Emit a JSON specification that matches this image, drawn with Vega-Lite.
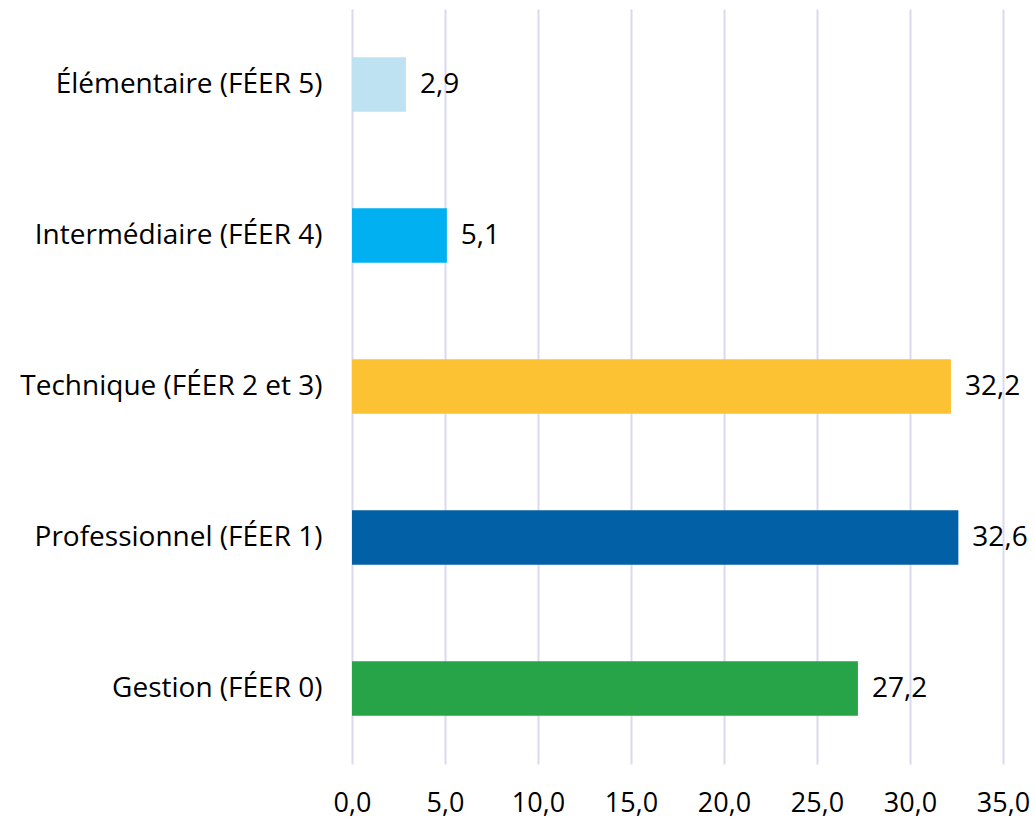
{
  "$schema": "https://vega.github.io/schema/vega-lite/v6.json",
  "autosize": "none",
  "padding": {"left": 352, "top": 9, "right": 32, "bottom": 58},
  "width": 651,
  "height": 755,
  "background": "white",
  "config": {
    "locale": {"number": {"decimal": ",", "thousands": " ", "grouping": [3], "currency": ["", " $"]}},
    "view": {"stroke": null},
    "font": "Open Sans"
  },
  "data": {
    "values": [
      {"categorie": "Élémentaire (FÉER 5)", "valeur": 2.9},
      {"categorie": "Intermédiaire (FÉER 4)", "valeur": 5.1},
      {"categorie": "Technique (FÉER 2 et 3)", "valeur": 32.2},
      {"categorie": "Professionnel (FÉER 1)", "valeur": 32.6},
      {"categorie": "Gestion (FÉER 0)", "valeur": 27.2}
    ]
  },
  "encoding": {
    "y": {
      "field": "categorie",
      "type": "nominal",
      "sort": null,
      "scale": {"paddingInner": 0.64, "paddingOuter": 0.32},
      "axis": {
        "title": null,
        "domain": false,
        "ticks": false,
        "labelFontSize": 28,
        "labelColor": "#000000",
        "labelPadding": 30,
        "labelLimit": 400
      }
    },
    "x": {
      "field": "valeur",
      "type": "quantitative",
      "scale": {"domain": [0, 35], "nice": false},
      "axis": {
        "title": null,
        "values": [0, 5, 10, 15, 20, 25, 30, 35],
        "format": ".1f",
        "domain": false,
        "ticks": false,
        "grid": true,
        "gridColor": "#D9D9F0",
        "gridWidth": 2,
        "labelFontSize": 27,
        "labelColor": "#000000",
        "labelPadding": 26,
        "labelFlush": false
      }
    }
  },
  "layer": [
    {
      "mark": {"type": "bar"},
      "encoding": {
        "color": {
          "field": "categorie",
          "type": "nominal",
          "scale": {
            "domain": ["Élémentaire (FÉER 5)", "Intermédiaire (FÉER 4)", "Technique (FÉER 2 et 3)", "Professionnel (FÉER 1)", "Gestion (FÉER 0)"],
            "range": ["#BEE2F2", "#00B0F0", "#FCC233", "#0160A6", "#27A348"]
          },
          "legend": null
        }
      }
    },
    {
      "mark": {"type": "text", "align": "left", "baseline": "middle", "dx": 14, "fontSize": 28, "color": "#000000"},
      "encoding": {
        "text": {"field": "valeur", "type": "quantitative", "format": ".1f"}
      }
    }
  ]
}
